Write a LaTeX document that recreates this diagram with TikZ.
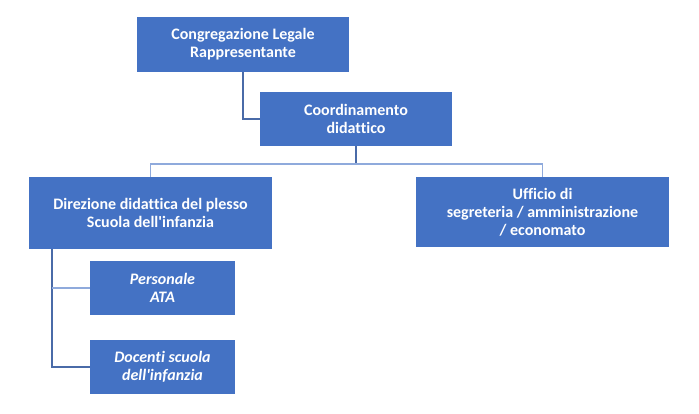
\documentclass[tikz,border=0pt]{standalone}
\usepackage{fontspec}
\setmainfont[Ligatures={NoCommon}]{Carlito}
\definecolor{boxblue}{HTML}{4472C4}
\definecolor{linedark}{HTML}{4A6BA8}
\definecolor{linelight}{HTML}{8FAADC}
\begin{document}
\begin{tikzpicture}[x=1pt,y=-1pt,
  orgbox/.style={fill=boxblue, text=white, font=\fontsize{16}{18}\selectfont\bfseries, align=center, inner sep=0pt},
  conn/.style={draw=linedark, line width=1.2pt},
  connlight/.style={draw=linelight, line width=1.2pt}]
\useasboundingbox[fill=white] (0,0) rectangle (699,414);
\node[orgbox, minimum width=212pt, minimum height=55pt] (cong) at (243,44.5) {Congregazione Legale\\Rappresentante};
\node[orgbox, minimum width=192pt, minimum height=54pt] (coord) at (356,119) {Coordinamento\\didattico};
\node[orgbox, minimum width=243pt, minimum height=72pt] (dir) at (150.5,213) {Direzione didattica del plesso\\Scuola dell\textquotesingle infanzia};
\node[orgbox, minimum width=253pt, minimum height=70pt] (uff) at (542.5,212) {Ufficio di\\segreteria / amministrazione\\/ economato};
\node[orgbox, minimum width=145pt, minimum height=54pt, font=\fontsize{16}{18}\selectfont\bfseries\itshape] (ata) at (162.5,288) {Personale\\ATA};
\node[orgbox, minimum width=145pt, minimum height=54pt, font=\fontsize{16}{18}\selectfont\bfseries\itshape] (doc) at (162.5,367) {Docenti scuola\\dell\textquotesingle infanzia};
\coordinate (bus) at (356,164);
\draw[conn] (cong.south) |- (coord.west);
\draw[conn] (coord.south) -- (bus);
\draw[connlight] (bus) -| (dir.north);
\draw[connlight] (bus) -| (uff.north);
\draw[conn] ([xshift=-98.5pt]dir.south) |- (doc.west);
\draw[connlight] ([xshift=-98.5pt]dir.south |- ata.west) -- (ata.west);
\end{tikzpicture}
\end{document}
